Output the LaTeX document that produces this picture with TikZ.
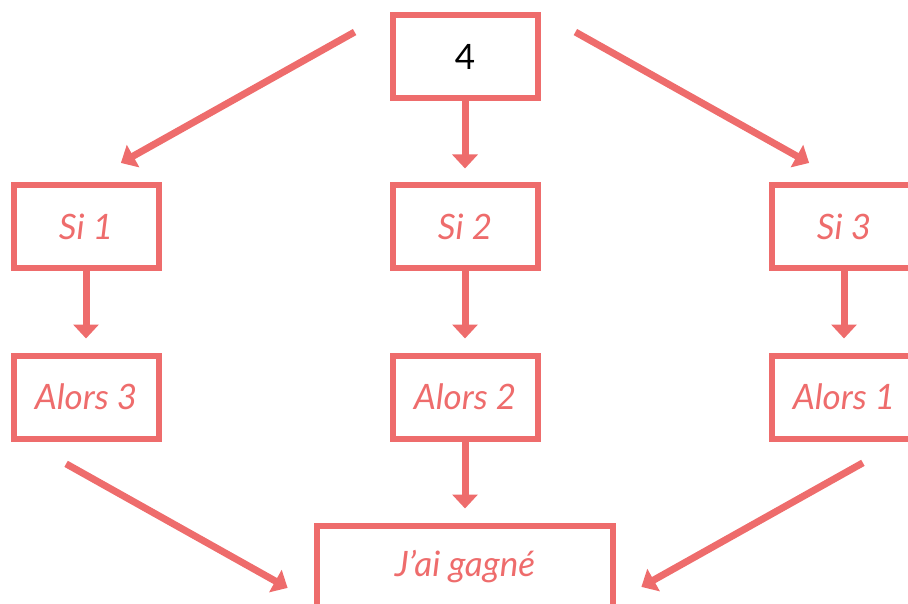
\documentclass[tikz,border=0pt]{standalone}
\usepackage{fontspec}
\setmainfont{Lato}
\usepackage{xcolor}
\usetikzlibrary{positioning, arrows.meta}
\definecolor{coral}{RGB}{238,108,108}

\begin{document}
\begin{tikzpicture}[
      x=1pt, y=-1pt,
      node distance={81pt and 228pt},
      box/.style={
        draw=coral,
        line width=6pt,
        minimum width=145pt,
        minimum height=83pt,
        text=coral,
        font=\fontsize{35}{42}\selectfont\itshape
      },
      arrow/.style={
        -{Triangle[width=25pt,length=14pt]},
        draw=coral,
        line width=7pt,
        shorten >=14pt
      }
    ]

    \clip (0,0) rectangle (908,604);

    \node[box, text=black, font=\fontsize{35}{42}\selectfont] (four) at (465,57) {4};

    \node[box, below=of four] (si2) {Si 2};
    \node[box, left=of si2] (si1) {Si 1};
    \node[box, right=of si2] (si3) {Si 3};

    \node[box, below=of si1] (alors3) {Alors 3};
    \node[box, below=of si2] (alors2) {Alors 2};
    \node[box, below=of si3] (alors1) {Alors 1};

    \node[box, below=of alors2, minimum width=296pt] (gagne) {J'ai gagné};

    \draw[arrow] (four) -- (si2);
    \draw[arrow] (si1) -- (alors3);
    \draw[arrow] (si2) -- (alors2);
    \draw[arrow] (si3) -- (alors1);
    \draw[arrow] (alors2) -- (gagne);

    \draw[arrow, shorten <=40pt, shorten >=40pt] (four.north west) -- (si1.north);
    \draw[arrow, shorten <=40pt, shorten >=40pt] (four.north east) -- (si3.north);
    \draw[arrow, shorten <=58pt, shorten >=36pt]
      ([xshift=5pt, yshift=6pt]alors3.south west) -- ([xshift=5pt, yshift=6pt]gagne.south west);
    \draw[arrow, shorten <=58pt, shorten >=36pt]
      ([xshift=-6pt, yshift=7pt]alors1.south east) -- ([xshift=-6pt, yshift=7pt]gagne.south east);

    \end{tikzpicture}
\end{document}
